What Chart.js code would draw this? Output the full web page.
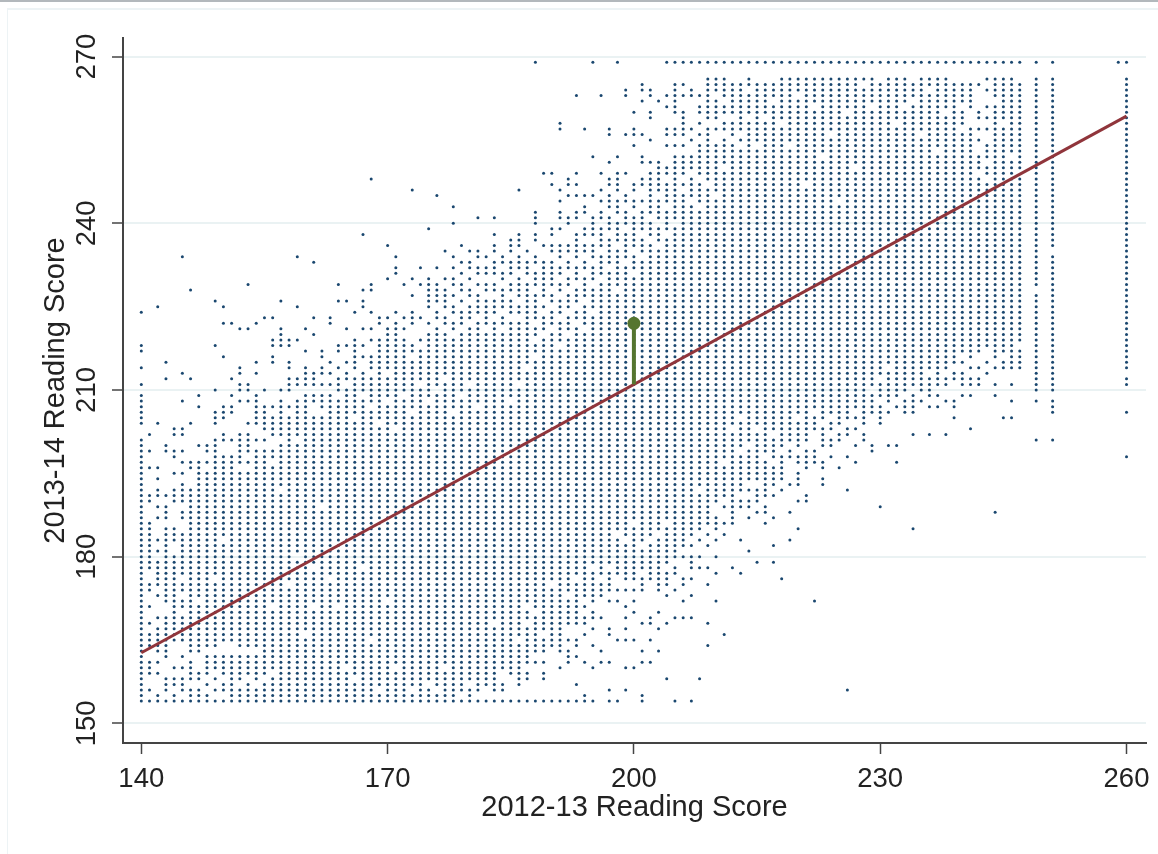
<!DOCTYPE html>
<html>
<head>
<meta charset="utf-8">
<style>
html,body{margin:0;padding:0;background:#fff;}
#frame{position:absolute;left:0;top:0;width:1158px;height:854px;overflow:hidden;}
#frame .topline{position:absolute;left:0;top:0;width:1158px;height:2px;background:#b3b8bc;}
#frame .inner{position:absolute;left:7px;top:8px;width:1151px;height:846px;border-left:1px solid #edf3f5;border-top:2px solid #edf3f5;box-sizing:border-box;}
canvas{position:absolute;left:0;top:0;}
</style>
<script src="https://cdn.jsdelivr.net/npm/chart.js@4/dist/chart.umd.min.js"></script>
</head>
<body>
<div id="frame"><div class="topline"></div><div class="inner"></div><canvas id="c" width="1158" height="854"></canvas></div>
<script>
const xAxisTitle = "2012-13 Reading Score";
const yAxisTitle = "2013-14 Reading Score";
const xTicks = [140,170,200,230,260];
const yTicks = [150,180,210,240,270];

// Fitted line and the one highlighted residual
const fitX = [140,260];
const fitY = [162.7,259.3];
const residualX = [200,200];
const residualY = [211,222];

// Uninterrupted runs of scores in a column: prior score -> [lowest, highest]
const solidRuns = {
140:[154,201],147:[164,197],148:[164,195],149:[164,201],150:[165,198],151:[154,198],152:[154,195],153:[154,195],154:[154,201],155:[154,197],
156:[154,196],157:[154,200],158:[154,205],159:[154,200],160:[154,201],161:[154,203],162:[154,204],163:[154,213],164:[154,214],165:[154,213],
166:[154,212],167:[154,213],168:[154,212],169:[154,213],170:[154,212],171:[154,213],172:[154,213],173:[154,213],174:[154,213],175:[154,213],
176:[154,213],177:[154,213],178:[154,213],179:[154,213],180:[154,213],181:[154,213],182:[157,213],183:[156,214],184:[161,215],185:[159,216],
186:[157,218],187:[161,225],188:[163,225],189:[163,228],190:[164,230],191:[163,235],192:[168,235],193:[168,236],194:[168,235],195:[172,236],
196:[173,244],197:[175,244],198:[177,244],199:[176,244],200:[176,244],201:[178,244],202:[178,244],203:[178,246],204:[179,250],205:[180,265],
206:[180,252],207:[182,252],208:[185,254],209:[186,266],210:[190,266],211:[191,266],212:[191,265],213:[192,265],214:[195,266],215:[194,265],
216:[195,265],217:[195,265],218:[194,266],219:[198,266],220:[200,266],221:[196,266],222:[203,266],223:[200,266],224:[200,266],225:[201,266],
226:[202,266],227:[205,266],228:[204,266],229:[206,266],230:[204,265],231:[206,266],232:[207,266],233:[206,266],234:[206,265],235:[208,266],
236:[209,266],237:[209,266],238:[211,266],239:[212,266],240:[209,265],241:[209,265],242:[211,252],243:[213,254],244:[209,266],245:[214,266],
246:[211,266],247:[214,265],249:[211,266],251:[206,266],260:[214,266]
};

// Scores missing from inside a run
const runGaps = {
147:[172],149:[176],150:[183],151:[164,163],152:[163,157],153:[163,158],154:[200,163,157],155:[158],156:[159,171],157:[192],158:[206,175],
159:[180],160:[166],161:[171,178],162:[189],163:[212,210,176],164:[213,209,171],165:[211,160],166:[205,158],167:[209,178],168:[207,165],
169:[204,156],170:[208,172],171:[203,160],172:[209],173:[206,156],174:[211],175:[208,157],176:[210,156],177:[212,160],178:[206],179:[209,155],
180:[211,157],181:[207,155],183:[168],185:[208],186:[211,165],187:[214,171,168],188:[222,219,216,170],189:[226,224,220,166],190:[228,225,221,175],
191:[233,230,227,223,218],192:[234,231,228,224,220,173],193:[233,229,225,222,176],194:[234,231,226,221,172,170],195:[233,229,224,178],
196:[243,240,235,230,176],197:[242,238,232,178],198:[241,236,228,184,176],199:[243,239,233,183],200:[242,235,231,186],201:[243,238,234,182],
202:[241,237,183],203:[245,240,236,184],204:[248,243,238,186],205:[259,258,255,253,240],206:[248,246,181],207:[249,244,183],208:[248,243,192],
209:[258,247],210:[263,258,256,255,245],211:[262,259,256,250,197],212:[259,255,203],213:[256,254,205,199],214:[264,259,200],215:[254,203],
216:[259,198],217:[262,202,197],218:[258,199],219:[254,200],220:[263,205],221:[247,200],222:[261,206],223:[252,204],224:[256,205,202],
225:[244,203],226:[260,204],227:[250,206],228:[265,203],229:[261,210],230:[208,212],231:[207,214],232:[258,208],233:[261,209],234:[262,210],
235:[256,209],236:[264,213],237:[253,210],238:[260,213],239:[266,214],240:[261,257,216,214,210],241:[260,259,258,215,213,210],242:[249,216,215,213],
243:[251,248,217,216,214],244:[262,215,213,212,210],245:[258,216],246:[252,213,212],247:[249,218],249:[228],251:[209,235]
};

// Isolated scores outside any run (columns 141-146 have no run at all)
const strayScores = {
140:[224,218,217,214,211,209,208,207,206,205,204],
141:[202,199,196,191,190,186,185,184,183,182,181,180,179,178,175,174,171,168,166,165,164,161,160,159,156,154],
142:[225,204,196,194,192,191,189,187,183,181,179,178,177,176,175,173,169,167,166,165,164,163,161,159,155,154],
143:[215,212,200,199,191,189,188,187,185,184,183,182,181,180,179,178,177,176,175,174,173,172,169,168,167,166,165,164,163,162,158,157,156,154],
144:[203,202,199,198,195,192,191,190,185,184,183,180,179,178,177,176,175,174,173,172,171,170,169,168,167,166,165,160,158,157,155,154],
145:[234,213,208,203,202,199,197,195,193,192,191,190,188,187,184,183,182,181,180,179,178,177,175,174,172,171,169,168,167,166,165,162,160,158,157,156,154],
146:[228,212,204,197,196,192,191,190,189,188,187,186,185,184,183,182,181,180,179,178,177,176,175,174,173,172,171,170,169,168,167,166,165,164,163,161,160,159,158,156,155,154],
147:[209,207,200,163,159,158,156,155,154],
148:[200,199,197,162,161,160,159,157,155,154],
149:[226,218,210,206,205,204,162,161,160,158,156,154],
150:[225,222,216,207,206,205,202,201,162,161,160,159,157,156,154],
151:[222,212,209,207,206,201],
152:[221,214,213,211,210,208,202,201,200,199,198,197],
153:[229,221,211,210,208,204,202,201,200,199,197],
154:[222,215,213,209,208,207,206,205,204],
155:[223,210,207,206,205,204,203,201,199,198],
156:[223,219,218,216,215,207,205,204,203,202,199,198],
157:[226,221,220,219,218,210,208,207,206,205,204,203,202],
158:[219,218,215,214,212,211,210,207],
159:[234,225,219,212,211,208,207,206,205,204,203,202],
160:[221,217,214,213,212,211,209,208,207,206,205,204,203,202],
161:[233,223,220,213,212,211,209,208,205,204],
162:[217,216,214,213,211,209,208,207,205],
163:[223,222,215],164:[229,226,218,217],165:[226,221,218,215],166:[224,219,218,217,216,215,214],
167:[238,228,226,225,221,218,216],168:[248,229,228,224,221,219,216,215,214],169:[223,222,219,218,217,216,215,214],
170:[236,230,223,221,220,219,218,217,216,215,214],171:[234,232,231,224,222,221,220,219,218,217,216,215,214],
172:[229,223,221,219,218,217,216,215,214],173:[246,230,227,224,223,222,218,217,215,214],174:[232,229,223,219,217,216,215,214],
175:[239,230,229,228,227,226,225,222,220,219,218,217,216,215,214],
176:[245,232,229,228,227,226,224,223,221,220,219,218,217,216,215,214],
177:[235,230,228,227,226,225,223,222,220,219,218,217,216,215,214],
178:[243,240,234,232,230,229,227,225,224,222,221,219,218,217,216,215,214],
179:[236,233,231,229,228,226,224,223,222,220,219,218,217,216,215,214],
180:[235,233,232,230,228,227,225,224,223,221,220,219,218,217,216,215,214],
181:[241,235,234,232,231,229,227,226,225,224,222,221,220,219,218,217,216,215,214],
182:[234,232,231,229,228,226,225,224,223,222,220,219,218,217,216,215,214,154],
183:[241,238,236,235,233,232,231,229,228,226,225,224,222,221,220,219,218,217,216,215,154],
184:[234,233,231,230,228,227,226,225,223,222,220,219,218,217,216,160,157,156,154],
185:[237,236,235,233,232,231,229,228,226,225,224,222,221,220,219,218,217,154],
186:[246,238,237,236,234,233,232,230,229,228,227,225,224,222,221,220,219,154],
187:[235,233,232,231,229,228,227,226,159,158,154],
188:[269,242,241,240,238,237,234,233,231,230,229,227,226,161,154],
189:[249,236,233,232,231,230,229,161,159,158,154],
190:[249,247,239,238,236,235,233,232,231,154],
191:[258,257,246,244,242,241,239,236,160,154],
192:[248,247,245,241,240,236,165,163,162,161,154],
193:[263,249,247,245,242,241,238,237,165,164,162,157,154],
194:[257,245,243,242,239,238,236,166,161,155,154],
195:[269,252,245,241,240,239,238,170,169,167,164,160,154],
196:[263,249,246,169,163,161],
197:[257,256,251,248,247,245,174,172,167,166,161,156,154],
198:[269,252,249,248,247,246,174,172,165,154],
199:[264,263,256,249,245,174,171,169,167,165,160,156],
200:[260,257,256,254,247,246,174,172,170,165,160],
201:[265,264,262,256,252,251,248,247,176,175,174,168,163,161,155,154],
202:[264,263,260,259,255,251,249,248,247,246,245,177,176,169,168,165,161],
203:[262,251,250,249,248,247,177,176,175,174,170,167,163],
204:[269,263,261,257,256,254,177,176,175,173,168,158],
205:[269,178,177,174,169,154],
206:[269,265,263,260,259,258,257,256,254,176,175,172,169],
207:[269,264,263,257,255,180,179,178,176,173,169,154],
208:[269,263,261,260,258,256,183,180,178,158],
209:[269,184,182,178,175,168,164],
210:[269,187,186,185,183,180,177,172],
211:[269,189,186,184,166],
212:[269,190,189,188,187,186,178],
213:[269,190,189,183,177],
214:[269,194,192,190,189,187,181],
215:[269,192,191,190,188,179],
216:[269,194,193,192,191,189,188,186],
217:[269,194,193,191,187,182,179],
218:[269,192,176],
219:[269,193,188,183],
220:[269,198,197,195,194,193,190,185],
221:[269,191,190],
222:[269,199,198,197,172],
223:[269,197,196,194,193],
224:[269,198],
225:[269,196],
226:[269,198,192,156],
227:[269,203,200,197],
228:[269,202,201],
229:[269,200,199],
230:[269,189],
231:[269,200],
232:[269,200,197],
233:[269],
234:[269,202,185],
235:[269],
236:[269,207,202],
237:[269,207],
238:[269,208,202],
239:[269,208,207,205],
240:[269],
241:[269,203],
242:[269,265,260,259,257,255],
243:[269,266,264,261,259,257],
244:[269,188],
245:[269,205],
246:[269,208,205],
247:[269],
249:[269,210,208,201],
251:[269,201],
259:[269],
260:[269,212,211,206,198]
};

// Build the scatter's point list from the columns above
const columnScores = [];
for (const c of Object.keys(solidRuns)) columnScores.push(+c);
for (const c of Object.keys(strayScores)) if (!columnScores.includes(+c)) columnScores.push(+c);
const scatterPoints = [];
for (const c of columnScores) {
  const run = solidRuns[c], gaps = runGaps[c] || [], strays = strayScores[c] || [];
  if (run) for (let v = run[0]; v <= run[1]; v++) if (!gaps.includes(v)) scatterPoints.push({x:c, y:v});
  for (const v of strays) scatterPoints.push({x:c, y:v});
}

const font = "'Liberation Sans', Arial, sans-serif";
const ink = "#222";
new Chart(document.getElementById('c'), {
  type: 'scatter',
  data: {
    datasets: [
      {data: scatterPoints, pointRadius: 1.5, pointBorderWidth: 0, pointBackgroundColor: '#1a476f', showLine: false, order: 3},
      {data: fitX.map((x,i)=>({x, y: fitY[i]})), showLine: true, borderColor: '#90353b', borderWidth: 3, pointRadius: 0, order: 2},
      {data: residualX.map((x,i)=>({x, y: residualY[i]})), showLine: true, borderColor: '#55752f', borderWidth: 4, pointRadius: [0,6.5], pointBackgroundColor: '#55752f', pointBorderWidth: 0, order: 1}
    ]
  },
  options: {
    responsive: false,
    animation: false,
    events: [],
    layout: {padding: {top: 38, right: 12, left: 0, bottom: 0}},
    plugins: {legend: {display: false}, tooltip: {enabled: false}},
    scales: {
      x: {
        type: 'linear', min: 137.77, max: 262.375,
        afterBuildTicks: s => { s.ticks = xTicks.map(value => ({value})); },
        afterFit: s => { s.height = 111; s.paddingRight = 0; s.paddingLeft = 0; },
        border: {color: '#444', width: 2},
        grid: {drawOnChartArea: false, drawTicks: true, tickLength: 11, tickColor: '#444', tickWidth: 1.5},
        ticks: {autoSkip: false, maxRotation: 0, minRotation: 0, padding: 9, color: ink, font: {family: font, size: 27.5}},
        title: {display: true, text: xAxisTitle, color: ink, font: {family: font, size: 29}, padding: {top: 0, bottom: 29}}
      },
      y: {
        type: 'linear', min: 146.45, max: 273.36,
        afterBuildTicks: s => { s.ticks = yTicks.map(value => ({value})); },
        afterFit: s => { s.width = 123; s.paddingTop = 0; s.paddingBottom = 0; },
        border: {color: '#444', width: 2},
        grid: {color: '#eaf2f3', lineWidth: 2, drawTicks: true, tickLength: 11, tickColor: '#444', tickWidth: 1.5},
        ticks: {autoSkip: false, minRotation: 90, maxRotation: 90, crossAlign: 'center', padding: 2, color: ink, font: {family: font, size: 27.5}},
        title: {display: true, text: yAxisTitle, color: ink, font: {family: font, size: 29}, padding: {top: 38.6, bottom: 0}}
      }
    }
  }
});
</script>
</body>
</html>
